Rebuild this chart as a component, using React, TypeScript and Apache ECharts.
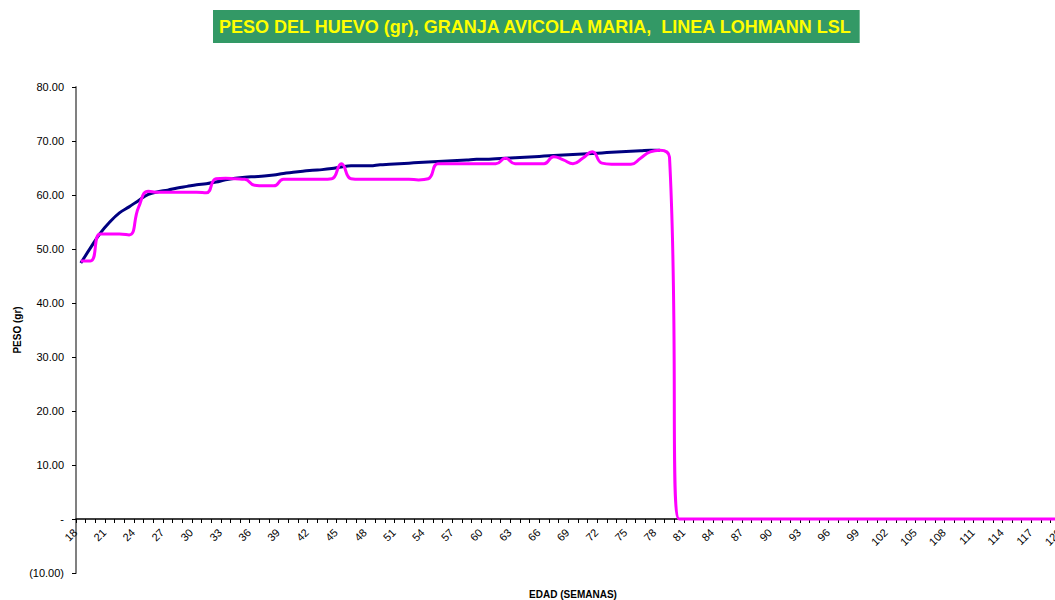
import React, { useEffect, useRef } from "react";
import * as echarts from "echarts";

const weeks = [
  "18","19","20","21","22","23","24","25","26","27","28","29","30","31","32","33","34","35","36","37",
  "38","39","40","41","42","43","44","45","46","47","48","49","50","51","52","53","54","55","56","57",
  "58","59","60","61","62","63","64","65","66","67","68","69","70","71","72","73","74","75","76","77",
  "78","79","80","81","82","83","84","85","86","87","88","89","90","91","92","93","94","95","96","97",
  "98","99","100","101","102","103","104","105","106","107","108","109","110","111","112","113","114","115","116","117",
  "118","119","120",
];

// Standard weight (weeks 18..78)
const standardWeight = [
  47.4, 50.2, 52.9, 55.0, 56.7, 57.8, 59.0, 60.1, 60.6, 60.9,
  61.3, 61.6, 61.9, 62.1, 62.4, 62.8, 63.1, 63.3, 63.4, 63.5,
  63.7, 64.0, 64.2, 64.4, 64.6, 64.7, 64.9, 65.2, 65.4, 65.4,
  65.4, 65.6, 65.7, 65.8, 65.9, 66.0, 66.1, 66.2, 66.3, 66.4,
  66.5, 66.6, 66.6, 66.7, 66.8, 66.9, 67.0, 67.1, 67.2, 67.3,
  67.4, 67.5, 67.6, 67.7, 67.8, 67.9, 68.0, 68.1, 68.2, 68.3,
  68.3,
];

// Actual weight (weeks 18..120)
const actualWeight = [
  47.8, 47.8, 52.8, 52.8, 52.8, 52.6, 57.8, 60.7, 60.5, 60.5,
  60.5, 60.5, 60.5, 60.4, 63.0, 63.1, 63.0, 62.9, 61.8, 61.7,
  61.7, 62.9, 62.9, 62.9, 62.9, 62.9, 63.0, 65.8, 63.0, 62.9,
  62.9, 62.9, 62.9, 62.9, 62.9, 62.8, 63.0, 65.8, 65.8, 65.8,
  65.8, 65.8, 65.8, 65.8, 66.8, 65.8, 65.8, 65.8, 65.8, 67.1,
  66.5, 65.8, 66.8, 68.0, 65.9, 65.7, 65.7, 65.7, 66.8, 68.0,
  68.3, 67.0, 0, 0, 0, 0, 0, 0, 0, 0,
  0, 0, 0, 0, 0, 0, 0, 0, 0, 0,
  0, 0, 0, 0, 0, 0, 0, 0, 0, 0,
  0, 0, 0, 0, 0, 0, 0, 0, 0, 0,
  0, 0, 0,
];

const titleText = "PESO DEL HUEVO (gr), GRANJA AVICOLA MARIA,  LINEA LOHMANN LSL";

export default function App() {
  const ref = useRef<HTMLDivElement>(null);
  useEffect(() => {
    if (!ref.current) return;
    const chart = echarts.init(ref.current, null, { renderer: "svg" });
    const font = "Arial, 'Liberation Sans', sans-serif";
    chart.setOption({
      animation: false,
      backgroundColor: "#ffffff",
      title: {
        text: titleText,
        left: 213,
        top: 10,
        padding: [8, 6, 7, 6],
        backgroundColor: "#339966",
        textStyle: {
          color: "#ffff00",
          fontFamily: font,
          fontWeight: "bold",
          fontSize: 18,
        },
      },
      grid: {
        left: 76,
        top: 87,
        width: 994,
        height: 486,
        containLabel: false,
        outerBoundsMode: "none",
      },
      xAxis: {
        type: "category",
        data: weeks,
        boundaryGap: true,
        position: "bottom",
        offset: -54,
        name: "EDAD (SEMANAS)",
        nameLocation: "middle",
        nameGap: 70,
        nameTextStyle: { fontFamily: font, fontWeight: "bold", fontSize: 10, color: "#000" },
        axisLine: { onZero: false, lineStyle: { color: "#000", width: 1.5 } },
        axisTick: { show: true, interval: 0, length: 4, lineStyle: { color: "#000" } },
        axisLabel: {
          interval: 2,
          rotate: 45,
          margin: 6,
          padding: [0, 8, 0, 0],
          fontFamily: font,
          fontSize: 11,
          color: "#000",
        },
        splitLine: { show: false },
      },
      yAxis: {
        type: "value",
        min: -10,
        max: 80,
        interval: 10,
        name: "PESO (gr)",
        nameLocation: "middle",
        nameRotate: 90,
        nameGap: 54,
        nameMoveOverlap: false,
        nameTextStyle: { fontFamily: font, fontWeight: "bold", fontSize: 10, color: "#000" },
        axisLine: { show: true, lineStyle: { color: "#808080", width: 2 } },
        axisTick: { show: true, length: 4, lineStyle: { color: "#000" } },
        axisLabel: {
          margin: 12,
          fontFamily: font,
          fontSize: 11,
          color: "#000",
          formatter: (v: number) => (v === 0 ? "-" : v < 0 ? "(" + Math.abs(v).toFixed(2) + ")" : v.toFixed(2)),
        },
        splitLine: { show: false },
      },
      series: [
        {
          name: "Estandar",
          type: "line",
          data: standardWeight,
          symbol: "none",
          smooth: 0.4,
          lineStyle: { color: "#000080", width: 3 },
          z: 2,
        },
        {
          name: "Real",
          type: "line",
          data: actualWeight,
          symbol: "none",
          smooth: 0.5,
          lineStyle: { color: "#ff00ff", width: 3 },
          z: 3,
        },
      ],
    });
    return () => chart.dispose();
  }, []);
  return (
    <div
      ref={ref}
      style={{ position: "fixed", left: 0, top: 0, width: 1100, height: 600 }}
    />
  );
}
